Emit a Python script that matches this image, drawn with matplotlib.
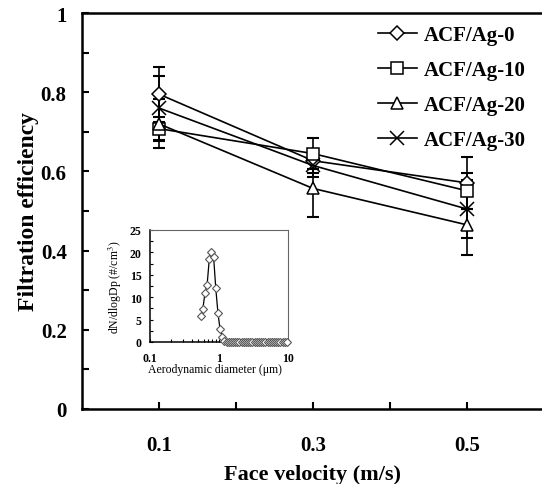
import matplotlib
matplotlib.use('Agg')
import matplotlib.pyplot as plt
from matplotlib.ticker import FixedLocator, FixedFormatter, MultipleLocator, LogLocator, NullFormatter

# face velocity (m/s) and filtration efficiency for each ACF/Ag sample
velocity = [0.1, 0.3, 0.5]
names = ['ACF/Ag-0', 'ACF/Ag-10', 'ACF/Ag-20', 'ACF/Ag-30']
eff_ag0 = [0.795, 0.627, 0.571]
err_ag0 = [0.069, 0.030, 0.065]
eff_ag10 = [0.708, 0.645, 0.551]
err_ag10 = [0.030, 0.040, 0.045]
eff_ag20 = [0.720, 0.557, 0.465]
err_ag20 = [0.062, 0.072, 0.075]
eff_ag30 = [0.760, 0.615, 0.505]
err_ag30 = [0.080, 0.030, 0.073]

# inlet aerosol size distribution (inset)
dp = [0.542, 0.583, 0.626, 0.673, 0.723, 0.777, 0.835, 0.898, 0.965, 1.037,
      1.114, 1.197, 1.286, 1.382, 1.486, 1.596, 1.715, 1.843, 1.981, 2.129,
      2.288, 2.458, 2.642, 2.839, 3.051, 3.278, 3.523, 3.786, 4.068, 4.371,
      4.698, 5.048, 5.425, 5.829, 6.264, 6.732, 7.234, 7.774, 8.354, 8.977,
      9.647]
dn = [5.8, 7.3, 11.0, 12.8, 18.5, 20.2, 19.0, 12.0, 6.5, 2.8,
      1.2, 0.3, 0, 0, 0, 0, 0, 0, 0, 0,
      0, 0, 0, 0, 0, 0, 0, 0, 0, 0,
      0, 0, 0, 0, 0, 0, 0, 0, 0, 0,
      0]

xticks = [0.1, 0.3, 0.5]
xticklabels = ['0.1', '0.3', '0.5']
yticks = [0, 0.2, 0.4, 0.6, 0.8, 1.0]
yticklabels = ['0', '0.2', '0.4', '0.6', '0.8', '1']

plt.rcParams['font.family'] = ['Liberation Serif', 'DejaVu Serif']
plt.rcParams['mathtext.fontset'] = 'stix'

fig = plt.figure(figsize=(5.42, 4.85), dpi=100)
ax = fig.add_axes([82 / 542, 75 / 485, 462 / 542, 396 / 485])

markers = [('D', 7.4), ('s', 8.6), ('^', 8.6), ('x', 10)]
series = [(eff_ag0, err_ag0), (eff_ag10, err_ag10), (eff_ag20, err_ag20), (eff_ag30, err_ag30)]
for (y, e), (m, ms), name in zip(series, markers, names):
    ax.errorbar(velocity, y, yerr=e, fmt='none', ecolor='black', elinewidth=1.2,
                capsize=4, capthick=1.5, zorder=2)
    ax.plot(velocity, y, color='black', lw=1.2, marker=m, ms=ms, mfc='white',
            mec='black', mew=1.1, label=name, zorder=3)

ax.set_xlim(0, 0.6)
ax.set_ylim(0, 1)
ax.xaxis.set_major_locator(FixedLocator(xticks))
ax.xaxis.set_major_formatter(FixedFormatter(xticklabels))
ax.xaxis.set_minor_locator(FixedLocator([0.2, 0.4]))
ax.yaxis.set_major_locator(FixedLocator(yticks))
ax.yaxis.set_major_formatter(FixedFormatter(yticklabels))
ax.yaxis.set_minor_locator(MultipleLocator(0.1))
ax.tick_params(which='both', direction='in', length=5, width=1.5, labelsize=15)
ax.tick_params(axis='x', which='major', pad=19)
ax.tick_params(axis='y', which='major', pad=11)
ax.tick_params(top=False, right=False, which='both')
for lab in ax.get_xticklabels() + ax.get_yticklabels():
    lab.set_fontweight('bold')
for s in ['left', 'bottom', 'top']:
    ax.spines[s].set_linewidth(1.8)
ax.spines['right'].set_visible(False)

ax.set_ylabel('Filtration efficiency', fontsize=17, fontweight='bold')
ax.yaxis.set_label_coords(-0.094, 0.5)
ax.set_xlabel('Face velocity (m/s)', fontsize=16, fontweight='bold')
ax.xaxis.set_label_coords(0.5, -0.138)

ax.legend(loc='upper left', bbox_to_anchor=(378 / 542, 1 - 26 / 485),
          bbox_transform=fig.transFigure, frameon=False,
          prop={'weight': 'bold', 'size': 15}, handlelength=1.85,
          handletextpad=0.35, labelspacing=0.72, borderpad=0, borderaxespad=0)

# inset: particle size distribution
ins = fig.add_axes([150 / 542, (485 - 343) / 485, 138 / 542, 112 / 485])
ins.plot(dp, dn, color='black', lw=0.9, marker='D', ms=4.2, mfc='white',
         mec='#555555', mew=0.8, clip_on=False, zorder=3)
ins.set_xscale('log')
ins.set_xlim(0.1, 10)
ins.set_ylim(0, 25)
ins.xaxis.set_major_locator(FixedLocator([0.1, 1, 10]))
ins.xaxis.set_major_formatter(FixedFormatter(['0.1', '1', '10']))
ins.xaxis.set_minor_locator(LogLocator(base=10, subs=range(2, 10)))
ins.xaxis.set_minor_formatter(NullFormatter())
ins.yaxis.set_major_locator(MultipleLocator(5))
ins.yaxis.set_minor_locator(MultipleLocator(2.5))
ins.tick_params(which='both', direction='in', length=2.5, width=0.8, labelsize=8.5)
ins.tick_params(axis='x', pad=7)
ins.tick_params(axis='y', pad=6)
for lab in ins.get_xticklabels() + ins.get_yticklabels():
    lab.set_fontweight('bold')
for s in ['left', 'bottom']:
    ins.spines[s].set_linewidth(1.1)
for s in ['top', 'right']:
    ins.spines[s].set_linewidth(0.8)
    ins.spines[s].set_color('#666666')
ins.set_ylabel('dN/dlogDp (#/cm$^3$)', fontsize=8.5)
ins.yaxis.set_label_coords(-0.19, 0.5)
ins.set_xlabel('Aerodynamic diameter (μm)', fontsize=8.5)
ins.xaxis.set_label_coords(0.47, -0.19)

fig.savefig('out.png', dpi=100)
